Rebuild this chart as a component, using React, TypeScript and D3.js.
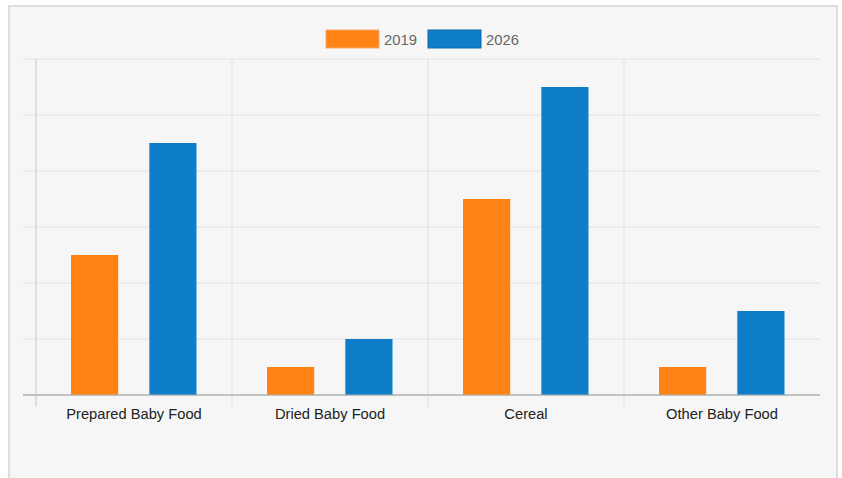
import React from "react";
import * as d3 from "d3";

const categories = ["Prepared Baby Food", "Dried Baby Food", "Cereal", "Other Baby Food"];
const seriesNames = ["2019", "2026"];
const values2019 = [2.5, 0.5, 3.5, 0.5];
const values2026 = [4.5, 1, 5.5, 1.5];
const colors = ["#ff8214", "#0f7ec9"];
const yTicks = [0, 1, 2, 3, 4, 5, 6];

export default function App() {
  const W = 842, H = 478;
  const left = 36, right = 820, top = 59, bottom = 395;
  const x = d3.scaleBand<string>().domain(categories).range([left, right]);
  const y = d3.scaleLinear().domain([0, 6]).range([bottom, top]);
  const inner = d3.scaleBand<string>().domain(seriesNames).range([35, 160.5]).paddingInner(31 / 78);
  const series = [values2019, values2026];
  const font = "Arial, 'Liberation Sans', sans-serif";
  return (
    <svg width={W} height={H} style={{ position: "absolute", left: 0, top: 0 }}>
      <rect x={9} y={6} width={828} height={480} fill="#f6f6f6" stroke="#dedede" strokeWidth={2} />
      {yTicks.map((t) => (
        <line key={t} x1={23} x2={right} y1={y(t)} y2={y(t)} stroke={t === 0 ? "#b0b0b0" : "#e2e2e2"} strokeWidth={1} />
      ))}
      <line x1={left} x2={left} y1={top} y2={407} stroke="#d6d6d6" strokeWidth={1.5} />
      {categories.slice(1).map((c) => (
        <line key={c} x1={x(c)!} x2={x(c)!} y1={top} y2={407} stroke="#e0e0e0" strokeWidth={1} />
      ))}
      {categories.map((c, ci) =>
        seriesNames.map((s, si) => (
          <rect
            key={c + s}
            x={x(c)! + inner(s)!}
            width={inner.bandwidth()}
            y={y(series[si][ci])}
            height={y(0) - y(series[si][ci])}
            fill={colors[si]}
          />
        ))
      )}
      <line x1={23} x2={right} y1={bottom} y2={bottom} stroke="#b0b0b0" strokeWidth={1} />
      {categories.map((c) => (
        <text key={c} x={x(c)! + x.bandwidth() / 2} y={419} textAnchor="middle" fontFamily={font} fontSize={14.7} fill="#222">
          {c}
        </text>
      ))}
      {seriesNames.map((s, i) => (
        <g key={s} transform={`translate(${326 + i * 102},30)`}>
          <rect x={0} y={0} width={53} height={18} fill={colors[i]} stroke={i === 0 ? "#f5a96a" : "#0b6aab"} strokeWidth={1} />
          <text x={58} y={14.5} fontFamily={font} fontSize={14.8} fill="#666">{s}</text>
        </g>
      ))}
    </svg>
  );
}
